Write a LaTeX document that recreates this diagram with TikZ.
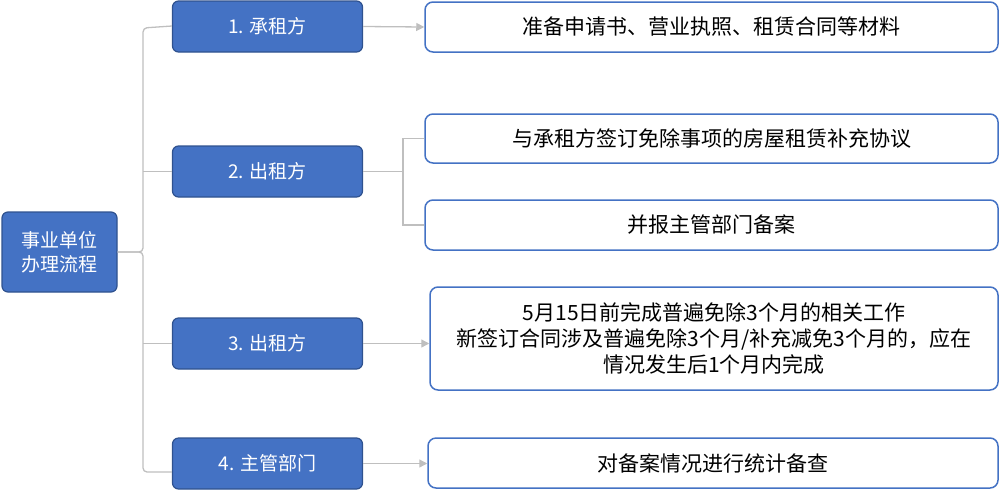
\documentclass[tikz,border=0pt]{standalone}
\usepackage{fontspec}
\setmainfont{Noto Sans CJK SC}
\usetikzlibrary{arrows.meta}
\definecolor{boxblue}{HTML}{4472C4}
\definecolor{edgeblue}{HTML}{2F528F}
\definecolor{linegray}{HTML}{BFBFBF}
\tikzset{
  stepbox/.style={draw=edgeblue, line width=1.2pt, fill=boxblue, rounded corners=6pt, text=white,
    minimum width=190pt, minimum height=51pt, font=\fontsize{19}{24}\selectfont},
  infobox/.style={draw=boxblue, line width=1.5pt, fill=white, rounded corners=8pt, align=center,
    minimum height=50pt, font=\fontsize{21}{26}\selectfont},
  link/.style={draw=linegray, line width=1.3pt},
  linkarr/.style={link, -{Triangle[length=8pt,width=8pt]}}
}
\begin{document}
\begin{tikzpicture}[x=1pt,y=-1pt]
      \useasboundingbox (0,0) rectangle (1000,491);

          %%  root and the four steps %%
      \node (root) at (59.5,252) [stepbox, minimum width=115pt, minimum height=80pt, align=center] {事业单位\\办理流程};
      \node (s1) at (267.5,26.5)  [stepbox] {1. 承租方};
      \node (s2) at (267.5,171.5) [stepbox] {2. 出租方};
      \node (s3) at (267.5,343.5) [stepbox] {3. 出租方};
      \node (s4) at (267.5,463.5) [stepbox] {4. 主管部门};

      \node (r1)  at (711.5,27)   [infobox, minimum width=573pt] {准备申请书、营业执照、租赁合同等材料};
      \node (r2a) at (711.5,138.5) [infobox, minimum width=573pt, minimum height=49pt] {与承租方签订免除事项的房屋租赁补充协议};
      \node (r2b) at (711.5,225)   [infobox, minimum width=573pt] {并报主管部门备案};
      \node (r3)  at (714,338.5)  [infobox, minimum width=568pt, minimum height=103pt] {5月15日前完成普遍免除3个月的相关工作\\新签订合同涉及普遍免除3个月/补充减免3个月的，应在\\情况发生后1个月内完成};
      \node (r4)  at (713,463)    [infobox, minimum width=570pt] {对备案情况进行统计备查};

      \draw[link, rounded corners=4pt] (root.east) -- (143,252) -- (143,28) -- (s1.west |- 0,26);
      \draw[link, rounded corners=4pt] (root.east) -- (143,252) -- (143,472) -- (s4.west |- 0,472);
      \draw[link] (143,171.5) -- (s2.west);
      \draw[link] (143,343.5) -- (s3.west);

      \draw[linkarr] (s1.east) -- (r1.west);
      \draw[linkarr] (s3.east) -- (r3.west |- s3.east);
      \draw[linkarr] (s4.east) -- (r4.west |- s4.east);
      \draw[link] (s2.east) -- (403,171.5);
      \draw[link] (r2a.west) -- (403,138.5) -- (403,225) -- (r2b.west);

        \end{tikzpicture}
\end{document}
